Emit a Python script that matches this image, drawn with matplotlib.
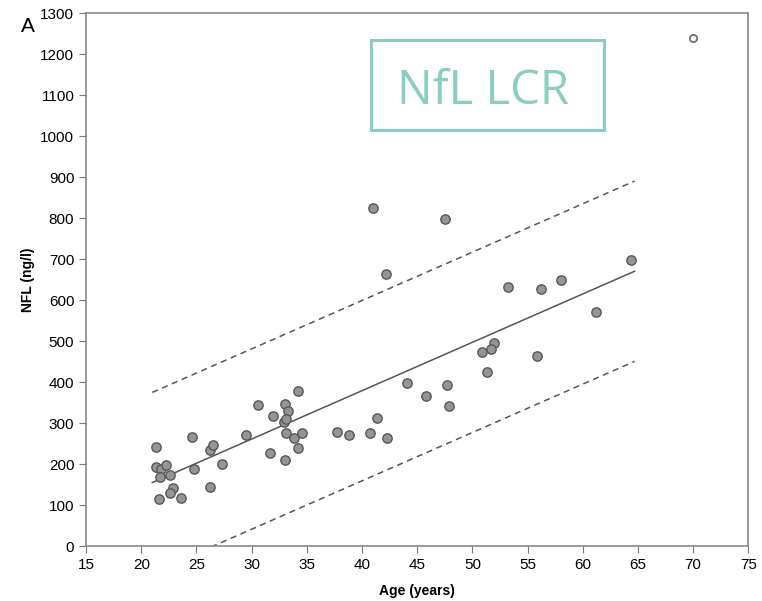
import numpy as np
from matplotlib import pyplot as plt
from matplotlib.patches import Rectangle

plt.rcParams['font.family'] = ['Liberation Sans', 'DejaVu Sans']

# patients (filled points)
age = [21.3, 21.3, 21.8, 22.2, 21.7, 22.6, 22.9, 22.6, 21.6, 23.6,
       24.6, 24.8, 26.2, 26.2, 26.5, 27.3, 29.5, 30.6, 31.9, 31.7,
       33.0, 33.0, 33.3, 32.9, 33.1, 33.1, 33.8, 34.6, 34.2, 34.2,
       37.7, 38.8, 41.0, 47.5, 42.2, 64.4, 53.2, 56.2, 58.0, 61.2,
       52.0, 51.7, 50.9, 51.3, 55.9, 44.1, 47.7, 45.8, 47.9, 41.4,
       40.7, 42.3]
nfl = [241, 193, 189, 197, 168, 173, 142, 129, 115, 118,
       265, 187, 145, 234, 247, 199, 271, 343, 317, 228,
       210, 347, 330, 303, 310, 276, 263, 275, 238, 378,
       277, 272, 824, 799, 664, 697, 632, 628, 650, 572,
       496, 480, 474, 424, 463, 397, 393, 367, 342, 313,
       275, 264]

# outlier (hollow)
out_age = [70.0]
out_nfl = [1239]

# regression fit and prediction interval
fit_age = np.array([21.0, 64.7])
fit_slope = 11.8
fit_intercept = -93
pi_half = 220

fig = plt.figure(figsize=(7.62, 6.01), dpi=100)
ax = fig.add_axes([0.113, 0.0915, 0.869, 0.8865])

fit = fit_intercept + fit_slope * fit_age
ax.plot(fit_age, fit, color='#555555', lw=1.1)
ax.plot(fit_age, fit + pi_half, color='#555555', lw=1.1, ls=(0, (4, 3)))
ax.plot(fit_age, fit - pi_half, color='#555555', lw=1.1, ls=(0, (4, 3)))

ax.scatter(age, nfl, s=45, facecolor='#959595', edgecolor='#575757', linewidth=1.0, zorder=3)
ax.scatter(out_age, out_nfl, s=28, facecolor='white', edgecolor='#6a6a6a', linewidth=1.2, zorder=3)

ax.set_xlim(15, 75)
ax.set_ylim(0, 1300)
ax.set_xticks(range(15, 80, 5))
ax.set_yticks(range(0, 1400, 100))
ax.tick_params(labelsize=11, length=5, color='#777777', top=False, right=False)
for s in ax.spines.values():
    s.set_color('#888888')
    s.set_linewidth(1.2)

ax.set_xlabel('Age (years)', fontsize=10, fontweight='bold', labelpad=9)
ax.set_ylabel('NFL (ng/l)', fontsize=10, fontweight='bold')

fig.text(0.028, 0.947, 'A', fontsize=15)

fig.patches.append(Rectangle((0.487, 0.784), 0.306, 0.15, transform=fig.transFigure,
                             fill=False, edgecolor='#8ccdc2', lw=2.2))
fig.text(0.634, 0.849, 'NfL LCR', fontsize=34, color='#8ccdc2', ha='center', va='center',
         family=['Open Sans', 'DejaVu Sans'])

plt.savefig('out.png', dpi=100)
